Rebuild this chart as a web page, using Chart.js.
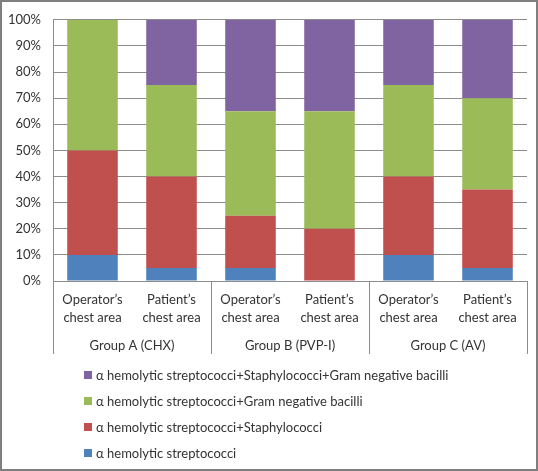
<!DOCTYPE html>
<html><head><meta charset="utf-8">
<script src="https://cdn.jsdelivr.net/npm/chart.js@4/dist/chart.umd.min.js"></script>
<style>html,body{margin:0;padding:0;background:#fff}#wrap{width:538px;height:471px}</style>
</head><body><div id="wrap"><canvas id="c" width="538" height="471"></canvas></div>
<script>
const categories = [["Operator’s","chest area"],["Patient’s","chest area"],["Operator’s","chest area"],["Patient’s","chest area"],["Operator’s","chest area"],["Patient’s","chest area"]];
const groups = ["Group A (CHX)","Group B (PVP-I)","Group C (AV)"];
const seriesNames = ["α hemolytic streptococci","α hemolytic streptococci+Staphylococci","α hemolytic streptococci+Gram negative bacilli","α hemolytic streptococci+Staphylococci+Gram negative bacilli"];
const blueValues = [10,5,5,0,10,5];
const redValues = [40,35,20,20,30,30];
const greenValues = [50,35,40,45,35,35];
const purpleValues = [0,25,35,35,25,30];
const colors = ["#4F81BD","#C0504D","#9BBB59","#8064A2"];
const textColor = "#333333";
const gridColor = "#8c8c8c";

Chart.defaults.font.family = "Lato";
Chart.defaults.font.size = 13;
Chart.defaults.color = textColor;

const extras = {
  id: "extras",
  beforeDraw(chart) {
    const ctx = chart.ctx;
    ctx.save();
    ctx.fillStyle = "#fff";
    ctx.fillRect(0, 0, chart.width, chart.height);
    ctx.restore();
  },
  afterDraw(chart) {
    const ctx = chart.ctx;
    const x = chart.scales.x;
    const area = chart.chartArea;
    const half = (x.getPixelForValue(1) - x.getPixelForValue(0)) / 2;
    ctx.save();
    // separators
    ctx.strokeStyle = gridColor;
    ctx.lineWidth = 1;
    const sepBottom = area.bottom + 73;
    [0, 2, 4, 6].forEach(i => {
      const px = Math.round(i < 6 ? x.getPixelForValue(i) - half : x.getPixelForValue(5) + half) + 0.5;
      ctx.beginPath();
      ctx.moveTo(px, area.bottom);
      ctx.lineTo(px, sepBottom);
      ctx.stroke();
    });
    // group labels
    ctx.fillStyle = textColor;
    ctx.font = "13px Lato";
    ctx.textAlign = "center";
    ctx.textBaseline = "middle";
    groups.forEach((g, i) => {
      const cx = (x.getPixelForValue(2 * i) + x.getPixelForValue(2 * i + 1)) / 2;
      ctx.fillText(g, cx, area.bottom + 65);
    });
    // legend
    ctx.textAlign = "left";
    const ds = chart.data.datasets;
    for (let k = 0; k < ds.length; k++) {
      const d = ds[ds.length - 1 - k];
      const cy = area.bottom + 94 + k * 26;
      ctx.fillStyle = d.backgroundColor;
      ctx.fillRect(84, Math.round(cy - 4), 8, 8);
      ctx.fillStyle = textColor;
      ctx.fillText(d.label, 96, cy + 1);
    }
    // outer border
    ctx.strokeStyle = "#7f7f7f";
    ctx.lineWidth = 2;
    ctx.strokeRect(1, 1, chart.width - 2, chart.height - 2);
    ctx.restore();
  }
};

const valueSets = [blueValues, redValues, greenValues, purpleValues];
new Chart(document.getElementById("c"), {
  type: "bar",
  data: {
    labels: categories,
    datasets: valueSets.map((v, i) => ({
      label: seriesNames[i],
      data: v,
      backgroundColor: colors[i],
      borderWidth: 0,
      categoryPercentage: 0.64,
      barPercentage: 1
    }))
  },
  options: {
    responsive: false,
    animation: false,
    devicePixelRatio: 1,
    layout: { padding: { top: 15, left: 0, right: 11, bottom: 0 } },
    plugins: { legend: { display: false }, tooltip: { enabled: false } },
    scales: {
      x: {
        stacked: true,
        grid: { display: false, drawTicks: false },
        border: { display: false },
        ticks: { maxRotation: 0, autoSkip: false, padding: 10, font: { size: 13, lineHeight: 1.35 }, color: textColor },
        afterFit(s) { s.height = 190; }
      },
      y: {
        stacked: true,
        min: 0, max: 100,
        grid: { color: gridColor, drawTicks: false },
        border: { display: true, color: gridColor },
        ticks: { stepSize: 10, padding: 12, callback: v => v + "%", color: textColor, font: { size: 13 } },
        afterFit(s) { s.width = 53; }
      }
    }
  },
  plugins: [extras]
});
</script></body></html>
